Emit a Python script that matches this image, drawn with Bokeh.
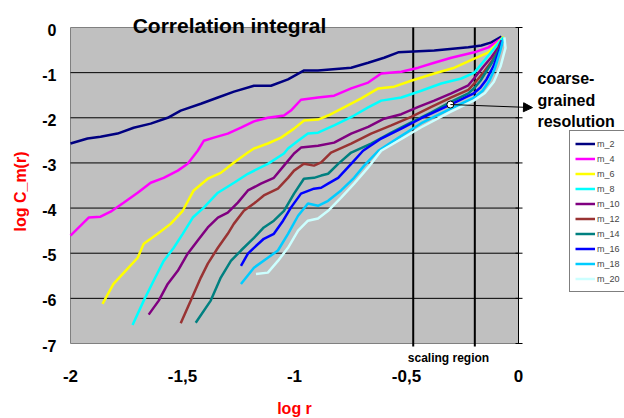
import math
from bokeh.plotting import figure
from bokeh.models import Legend, LegendItem, Arrow, NormalHead
from bokeh.core.properties import value
from bokeh.embed import file_html
from bokeh.resources import INLINE

FONT = "Liberation Sans"

# ---- data (log r, log C_m(r)) ----
x_m2 = [-2.0, -1.924, -1.866, -1.79, -1.718, -1.642, -1.566, -1.508, -1.418, -1.342, -1.27, -1.181,
        -1.105, -1.029, -0.957, -0.895, -0.747, -0.671, -0.6, -0.537, -0.376, -0.224, -0.166, -0.121, -0.076]
y_m2 = [-2.57, -2.46, -2.42, -2.35, -2.22, -2.13, -2.00, -1.84, -1.69, -1.55, -1.42, -1.29,
        -1.29, -1.15, -0.95, -0.95, -0.89, -0.78, -0.67, -0.55, -0.51, -0.44, -0.40, -0.33, -0.20]

x_m4 = [-2.0, -1.955, -1.919, -1.866, -1.821, -1.763, -1.70, -1.642, -1.584, -1.521, -1.477, -1.432,
        -1.405, -1.36, -1.298, -1.239, -1.181, -1.119, -1.047, -1.016, -0.971, -0.895, -0.823, -0.747,
        -0.671, -0.613, -0.523, -0.447, -0.376, -0.30, -0.197, -0.134, -0.09, -0.067]
y_m4 = [-4.61, -4.39, -4.21, -4.19, -4.08, -3.88, -3.66, -3.44, -3.33, -3.17, -3.02, -2.73,
        -2.51, -2.44, -2.35, -2.22, -2.08, -2.00, -1.95, -1.84, -1.60, -1.55, -1.51, -1.35,
        -1.22, -1.02, -0.98, -0.89, -0.78, -0.67, -0.55, -0.44, -0.29, -0.22]

x_m6 = [-1.857, -1.808, -1.745, -1.70, -1.673, -1.611, -1.553, -1.499, -1.45, -1.387, -1.329, -1.27,
        -1.208, -1.181, -1.119, -1.06, -1.002, -0.957, -0.895, -0.85, -0.779, -0.702, -0.626, -0.555,
        -0.479, -0.376, -0.286, -0.197, -0.134, -0.09, -0.067]
y_m6 = [-6.12, -5.68, -5.34, -5.10, -4.79, -4.57, -4.35, -4.06, -3.61, -3.35, -3.22, -2.99,
        -2.77, -2.68, -2.57, -2.44, -2.24, -2.06, -2.04, -1.95, -1.77, -1.57, -1.35, -1.31,
        -1.18, -1.02, -0.89, -0.69, -0.55, -0.33, -0.20]

x_m8 = [-1.723, -1.673, -1.629, -1.584, -1.539, -1.499, -1.454, -1.405, -1.342, -1.27, -1.208, -1.119,
        -1.047, -1.029, -0.984, -0.94, -0.895, -0.823, -0.734, -0.671, -0.613, -0.523, -0.434, -0.345,
        -0.255, -0.197, -0.134, -0.09, -0.067]
y_m8 = [-6.59, -6.05, -5.61, -5.17, -4.88, -4.57, -4.21, -3.99, -3.66, -3.44, -3.24, -3.02,
        -2.79, -2.68, -2.51, -2.35, -2.33, -2.17, -1.95, -1.77, -1.62, -1.55, -1.40, -1.24,
        -1.13, -1.00, -0.62, -0.35, -0.22]

x_m10 = [-1.651, -1.606, -1.566, -1.521, -1.477, -1.432, -1.387, -1.342, -1.298, -1.253, -1.208, -1.15,
         -1.092, -1.047, -1.002, -0.971, -0.895, -0.823, -0.747, -0.671, -0.60, -0.523, -0.447, -0.376,
         -0.30, -0.224, -0.197, -0.157, -0.121, -0.09, -0.076]
y_m10 = [-6.36, -6.05, -5.68, -5.39, -5.01, -4.72, -4.43, -4.21, -4.10, -3.88, -3.61, -3.46,
         -3.33, -3.06, -2.79, -2.66, -2.62, -2.55, -2.35, -2.20, -2.02, -1.92, -1.76, -1.62,
         -1.46, -1.28, -1.12, -0.87, -0.66, -0.44, -0.29]

x_m12 = [-1.508, -1.463, -1.418, -1.387, -1.342, -1.298, -1.271, -1.226, -1.181, -1.137, -1.074, -1.029,
         -1.002, -0.958, -0.913, -0.881, -0.837, -0.747, -0.658, -0.568, -0.479, -0.389, -0.30, -0.224,
         -0.197, -0.157, -0.121, -0.09, -0.072]
y_m12 = [-6.55, -6.05, -5.54, -5.23, -4.88, -4.57, -4.35, -4.06, -3.90, -3.72, -3.57, -3.33,
         -3.17, -3.02, -3.06, -2.99, -2.77, -2.57, -2.35, -2.17, -1.98, -1.76, -1.55, -1.38,
         -1.24, -1.00, -0.76, -0.50, -0.29]

x_m14 = [-1.441, -1.374, -1.329, -1.284, -1.239, -1.181, -1.137, -1.092, -1.047, -1.002, -0.958, -0.913,
         -0.881, -0.85, -0.805, -0.747, -0.658, -0.568, -0.479, -0.389, -0.30, -0.224, -0.197, -0.17,
         -0.145, -0.121, -0.09, -0.072]
y_m14 = [-6.54, -6.05, -5.54, -5.17, -4.94, -4.66, -4.43, -4.28, -4.06, -3.68, -3.35, -3.33,
         -3.28, -3.24, -3.02, -2.77, -2.57, -2.33, -2.10, -1.88, -1.64, -1.46, -1.34, -1.18,
         -0.98, -0.80, -0.52, -0.31]

x_m16 = [-1.239, -1.208, -1.181, -1.137, -1.092, -1.051, -1.016, -0.971, -0.913, -0.881, -0.85, -0.805,
         -0.747, -0.694, -0.613, -0.523, -0.434, -0.304, -0.2, -0.17, -0.143, -0.112, -0.085, -0.072]
y_m16 = [-5.28, -5.01, -4.88, -4.68, -4.57, -4.28, -3.99, -3.68, -3.57, -3.55, -3.46, -3.33,
         -3.02, -2.73, -2.46, -2.24, -2.01, -1.71, -1.46, -1.33, -1.15, -0.86, -0.51, -0.29]

x_m18 = [-1.239, -1.181, -1.119, -1.074, -1.029, -0.984, -0.94, -0.895, -0.85, -0.792, -0.734, -0.689,
         -0.626, -0.523, -0.434, -0.304, -0.2, -0.16, -0.13, -0.105, -0.081, -0.067]
y_m18 = [-5.68, -5.32, -5.10, -4.94, -4.57, -4.17, -3.90, -3.95, -3.84, -3.61, -3.33, -3.06,
         -2.73, -2.40, -2.12, -1.80, -1.56, -1.40, -1.18, -0.90, -0.51, -0.24]

x_m20 = [-1.172, -1.119, -1.074, -1.029, -0.984, -0.94, -0.895, -0.85, -0.792, -0.734, -0.671, -0.613,
         -0.523, -0.434, -0.304, -0.2, -0.15, -0.11, -0.08, -0.058, -0.063]
y_m20 = [-5.46, -5.43, -5.17, -4.88, -4.50, -4.28, -4.23, -4.06, -3.77, -3.46, -3.10, -2.73,
         -2.47, -2.21, -1.87, -1.62, -1.45, -1.20, -0.86, -0.45, -0.22]

series_names = ["m_2", "m_4", "m_6", "m_8", "m_10", "m_12", "m_14", "m_16", "m_18", "m_20"]
series_x = [x_m2, x_m4, x_m6, x_m8, x_m10, x_m12, x_m14, x_m16, x_m18, x_m20]
series_y = [y_m2, y_m4, y_m6, y_m8, y_m10, y_m12, y_m14, y_m16, y_m18, y_m20]
series_colors = ["#000080", "#FF00FF", "#FFFF00", "#00FFFF", "#800080",
                 "#993333", "#008080", "#0000FF", "#00CCFF", "#CCFFFF"]

x_ticks = [-2, -1.5, -1, -0.5, 0]
x_tick_labels = ["-2", "-1,5", "-1", "-0,5", "0"]
y_ticks = [0, -1, -2, -3, -4, -5, -6, -7]
y_tick_labels = ["0", "-1", "-2", "-3", "-4", "-5", "-6", "-7"]
x_min, x_max, y_min, y_max = -2, 0, -7, 0

scaling_lines = [-0.47, -0.195]
marker_point = (-0.304, -1.707)
arrow_end = (0.0625, -1.774)

# ---- layout: the frame covers the whole canvas; pixel scale 224 px / unit in x, 45.14 px / unit in y
W, H = 624, 418
PX_X, PX_Y = 224.0, 316.0 / 7.0
LEFT_PX, TOP_PX = 70, 27
xr = (x_min - LEFT_PX / PX_X, x_min + (W - LEFT_PX) / PX_X)
yr = (y_max - (H - TOP_PX) / PX_Y, y_max + TOP_PX / PX_Y)

def dx(px):
    return px / PX_X

def dy(px):
    return px / PX_Y

p = figure(width=W, height=H, x_range=xr, y_range=yr, output_backend="svg",
           toolbar_location=None, x_axis_location=None, y_axis_location=None,
           min_border=0)
p.grid.visible = False
p.outline_line_color = None
p.background_fill_color = "white"

# plot area
p.quad(left=[x_min], right=[x_max], bottom=[y_min], top=[y_max],
       fill_color="#C0C0C0", line_color="#808080", line_width=1)
inner = [t for t in y_ticks if y_min < t < y_max]
p.segment(x0=[x_min] * len(inner), x1=[x_max] * len(inner), y0=inner, y1=inner,
          line_color="black", line_width=1)
# value axis drawn at x = 0 with crossing tick marks
p.segment(x0=[x_max], x1=[x_max], y0=[y_min], y1=[y_max], line_color="black", line_width=1)
p.segment(x0=[x_max - dx(3)] * len(y_ticks), x1=[x_max + dx(4)] * len(y_ticks),
          y0=y_ticks, y1=y_ticks, line_color="black", line_width=1)
# scaling region borders
p.segment(x0=scaling_lines, x1=scaling_lines, y0=[y_min - dy(3)] * 2, y1=[y_max] * 2,
          line_color="black", line_width=2)

items = []
for name, xs, ys, c in zip(series_names, series_x, series_y, series_colors):
    r = p.line(xs, ys, line_color=c, line_width=2.5)
    items.append(LegendItem(label=name, renderers=[r]))

p.scatter([marker_point[0]], [marker_point[1]], size=7, fill_color="white", line_color="black")
p.add_layout(Arrow(x_start=marker_point[0], y_start=marker_point[1], x_end=arrow_end[0],
                   y_end=arrow_end[1], line_color="black", line_width=1,
                   end=NormalHead(size=9, fill_color="black", line_color="black")))

# tick labels
p.text(x=[x_min - dx(14)] * len(y_ticks), y=[t - dy(2) for t in y_ticks], text=y_tick_labels,
       text_align="right", text_baseline="middle", text_font=value(FONT),
       text_font_size="16px", text_font_style="bold", text_color="black")
p.text(x=x_ticks, y=[y_min - dy(32)] * len(x_ticks), text=x_tick_labels,
       text_align="center", text_baseline="middle", text_font=value(FONT),
       text_font_size="17px", text_font_style="bold", text_color="black")

# axis titles
p.text(x=[(x_min + x_max) / 2], y=[y_min - dy(65)], text=["log r"], text_align="center",
       text_baseline="middle", text_font=value(FONT), text_font_size="16px",
       text_font_style="bold", text_color="red")
p.text(x=[x_min - dx(50)], y=[y_max - dy(164)], text=["log C_m(r)"], angle=math.pi / 2,
       text_align="center", text_baseline="middle", text_font=value(FONT),
       text_font_size="16px", text_font_style="bold", text_color="red")

# title and annotations
p.text(x=[-1.29], y=[y_max + dy(2)], text=["Correlation integral"], text_align="center",
       text_baseline="alphabetic", text_font=value(FONT), text_font_size="21px",
       text_font_style="bold", text_color="black")
p.text(x=[-0.3125], y=[y_min - dy(14)], text=["scaling region"], text_align="center",
       text_baseline="middle", text_font=value(FONT), text_font_size="12px",
       text_font_style="bold", text_color="black")
p.text(x=[0.0848] * 3, y=[-1.130, -1.617, -2.082], text=["coarse-", "grained", "resolution"],
       text_align="left", text_baseline="middle", text_font=value(FONT),
       text_font_size="16px", text_font_style="bold", text_color="black")

legend = Legend(items=items, location=(569, 126), label_text_font=FONT, label_text_font_size="9px",
                glyph_width=20, glyph_height=15, label_height=15, spacing=0, padding=5, margin=0,
                label_standoff=2, border_line_color="black", border_line_width=1,
                background_fill_color="white", background_fill_alpha=1)
p.add_layout(legend)

open("out.html", "w").write(file_html(p, INLINE))
